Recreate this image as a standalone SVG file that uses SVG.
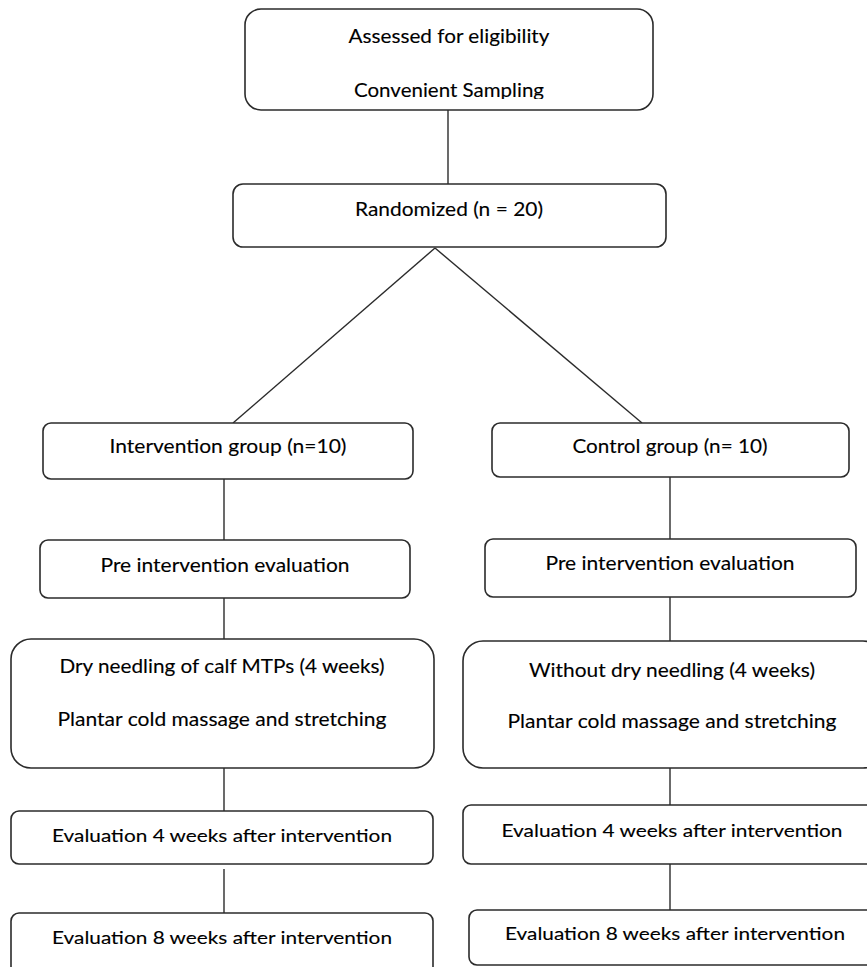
<svg xmlns="http://www.w3.org/2000/svg" width="867" height="967" viewBox="0 0 867 967">
<style>
.box{fill:#fff;stroke:#2b2b2b;stroke-width:1.6}
.ln{stroke:#2b2b2b;stroke-width:1.4;fill:none}
.t{font-family:Lato,"Open Sans","Liberation Sans",sans-serif;font-size:19px;fill:#000;stroke:#000;stroke-width:0.12;text-anchor:middle}
.s{font-size:18px}
</style>
<defs>
<clipPath id="topclip"><rect x="245" y="9" width="408" height="90"/></clipPath>
</defs>
<rect width="867" height="967" fill="#fff"/>
<g id="connectors">
<line class="ln" x1="448" y1="110" x2="448" y2="185"/>
<line class="ln" x1="435" y1="248" x2="233" y2="423"/>
<line class="ln" x1="435" y1="248" x2="642" y2="423"/>
<line class="ln" x1="224" y1="479" x2="224" y2="540"/>
<line class="ln" x1="224" y1="598" x2="224" y2="640"/>
<line class="ln" x1="224" y1="768" x2="224" y2="811"/>
<line class="ln" x1="224" y1="869" x2="224" y2="913"/>
<line class="ln" x1="670" y1="477" x2="670" y2="539"/>
<line class="ln" x1="670" y1="597" x2="670" y2="641"/>
<line class="ln" x1="670" y1="768" x2="670" y2="805"/>
<line class="ln" x1="670" y1="864" x2="670" y2="910"/>
</g>
<g id="assessed">
<rect class="box" x="245" y="9" width="408" height="101" rx="16"/>
<text class="t" x="449" y="43" textLength="201" lengthAdjust="spacingAndGlyphs">Assessed for eligibility</text>
<text class="t" x="449" y="97" textLength="190" lengthAdjust="spacingAndGlyphs" clip-path="url(#topclip)">Convenient Sampling</text>
</g>
<g id="randomized">
<rect class="box" x="233" y="184" width="433" height="63" rx="10"/>
<text class="t" x="449" y="216" textLength="188" lengthAdjust="spacingAndGlyphs">Randomized (n = 20)</text>
</g>
<g id="intervention">
<rect class="box" x="43" y="423" width="370" height="56" rx="8"/>
<text class="t" x="228" y="453" textLength="237" lengthAdjust="spacingAndGlyphs">Intervention group (n=10)</text>
</g>
<g id="control">
<rect class="box" x="492" y="423" width="357" height="54" rx="8"/>
<text class="t" x="670" y="453" textLength="195" lengthAdjust="spacingAndGlyphs">Control group (n= 10)</text>
</g>
<g id="pre-left">
<rect class="box" x="40" y="540" width="370" height="58" rx="8"/>
<text class="t" x="225" y="572" textLength="249" lengthAdjust="spacingAndGlyphs">Pre intervention evaluation</text>
</g>
<g id="pre-right">
<rect class="box" x="485" y="539" width="371" height="58" rx="8"/>
<text class="t" x="670" y="570" textLength="249" lengthAdjust="spacingAndGlyphs">Pre intervention evaluation</text>
</g>
<g id="dry-needling">
<rect class="box" x="11" y="639" width="423" height="129" rx="20"/>
<text class="t" x="222" y="673" textLength="325" lengthAdjust="spacingAndGlyphs">Dry needling of calf MTPs (4 weeks)</text>
<text class="t" x="222" y="726" textLength="329" lengthAdjust="spacingAndGlyphs">Plantar cold massage and stretching</text>
</g>
<g id="without-dry-needling">
<rect class="box" x="463" y="641" width="420" height="127" rx="20"/>
<text class="t" x="672" y="677" textLength="286" lengthAdjust="spacingAndGlyphs">Without dry needling (4 weeks)</text>
<text class="t" x="672" y="728" textLength="329" lengthAdjust="spacingAndGlyphs">Plantar cold massage and stretching</text>
</g>
<g id="eval4-left">
<rect class="box" x="11" y="811" width="422" height="53" rx="8"/>
<text class="t s" x="222" y="842" textLength="340" lengthAdjust="spacingAndGlyphs">Evaluation 4 weeks after intervention</text>
</g>
<g id="eval8-left">
<rect class="box" x="11" y="913" width="422" height="70" rx="8"/>
<text class="t s" x="222" y="944" textLength="340" lengthAdjust="spacingAndGlyphs">Evaluation 8 weeks after intervention</text>
</g>
<g id="eval4-right">
<rect class="box" x="463" y="805" width="420" height="59" rx="8"/>
<text class="t s" x="672" y="837" textLength="341" lengthAdjust="spacingAndGlyphs">Evaluation 4 weeks after intervention</text>
</g>
<g id="eval8-right">
<rect class="box" x="469" y="910" width="414" height="55" rx="8"/>
<text class="t s" x="675" y="940" textLength="340" lengthAdjust="spacingAndGlyphs">Evaluation 8 weeks after intervention</text>
</g>
</svg>
